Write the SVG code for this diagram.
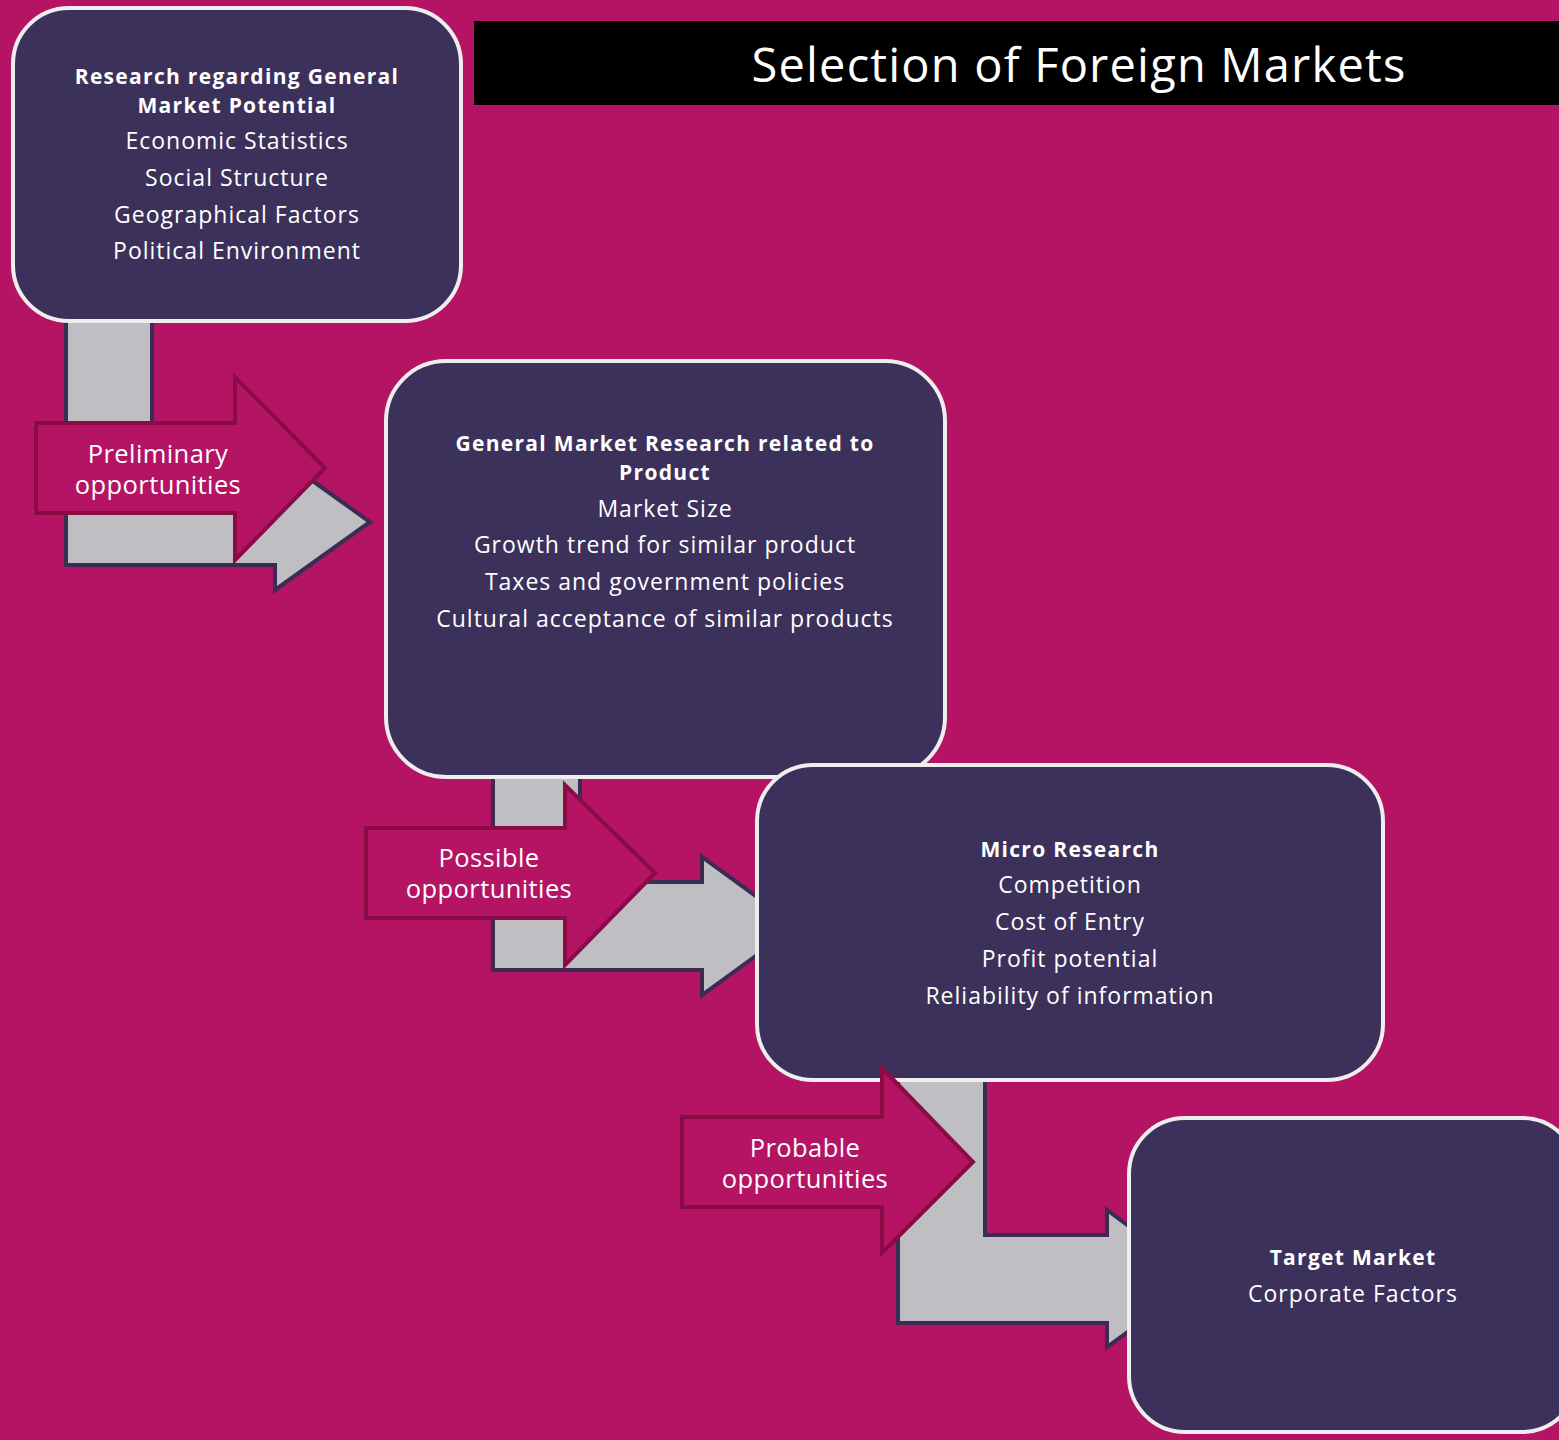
<svg xmlns="http://www.w3.org/2000/svg" width="1559" height="1440" viewBox="0 0 1559 1440">
<style>
.bg{fill:#B41463}
.node{fill:#3C315A;stroke:#EEEEEE;stroke-width:4}
.conn{fill:#BFBEC3;stroke:#3A2C52;stroke-width:4;stroke-linejoin:miter}
.lbl{fill:#B41463;stroke:#8A0C47;stroke-width:4;stroke-linejoin:miter}
text{font-family:"Open Sans","Noto Sans","Liberation Sans",sans-serif;fill:#FFFFFF;text-anchor:middle}
.t{font-weight:bold;font-size:21px;letter-spacing:1.3px}
.i{font-size:23px;letter-spacing:1px}
.l{font-size:25.5px;letter-spacing:0.4px}
.title{font-size:47px;letter-spacing:1.2px}
</style>
<rect class="bg" x="0" y="0" width="1559" height="1440"/>
<g id="title">
<rect x="474" y="21" width="1090" height="84" fill="#000000"/>
<text class="title" x="1079" y="82">Selection of Foreign Markets</text>
</g>
<g id="connectors">
<path class="conn" d="M66,318 L66,565 L275,565 L275,590 L370,522 L275,454 L275,479 L152,479 L152,318 Z"/>
<path class="conn" d="M493,770 L493,970 L702,970 L702,995 L797,926 L702,857 L702,882 L580,882 L580,770 Z"/>
<path class="conn" d="M898,1075 L898,1323 L1107,1323 L1107,1347 L1200,1279 L1107,1210 L1107,1235 L985,1235 L985,1075 Z"/>
</g>
<g id="node1">
<rect class="node" x="13" y="8" width="448" height="313" rx="56" ry="56"/>
<text class="t" x="237" y="84">Research regarding General</text>
<text class="t" x="237" y="113">Market Potential</text>
<text class="i" x="237" y="149">Economic Statistics</text>
<text class="i" x="237" y="186">Social Structure</text>
<text class="i" x="237" y="223">Geographical Factors</text>
<text class="i" x="237" y="259">Political Environment</text>
</g>
<g id="node2">
<rect class="node" x="386" y="361" width="559" height="416" rx="60" ry="60"/>
<text class="t" x="665" y="451">General Market Research related to</text>
<text class="t" x="665" y="480">Product</text>
<text class="i" x="665" y="517">Market Size</text>
<text class="i" x="665" y="553">Growth trend for similar product</text>
<text class="i" x="665" y="590">Taxes and government policies</text>
<text class="i" x="665" y="627">Cultural acceptance of similar products</text>
</g>
<g id="node3">
<rect class="node" x="757" y="765" width="626" height="315" rx="56" ry="56"/>
<text class="t" x="1070" y="857">Micro Research</text>
<text class="i" x="1070" y="893">Competition</text>
<text class="i" x="1070" y="930">Cost of Entry</text>
<text class="i" x="1070" y="967">Profit potential</text>
<text class="i" x="1070" y="1004">Reliability of information</text>
</g>
<g id="node4">
<rect class="node" x="1129" y="1118" width="449" height="314" rx="56" ry="56"/>
<text class="t" x="1353" y="1265">Target Market</text>
<text class="i" x="1353" y="1302">Corporate Factors</text>
</g>
<g id="label1">
<path class="lbl" d="M36,423 L235,423 L235,377 L325,468 L235,560 L235,513 L36,513 Z"/>
<text class="l" x="158" y="463">Preliminary</text>
<text class="l" x="158" y="494">opportunities</text>
</g>
<g id="label2">
<path class="lbl" d="M366,828 L565,828 L565,785 L655,873 L565,965 L565,918 L366,918 Z"/>
<text class="l" x="489" y="867">Possible</text>
<text class="l" x="489" y="898">opportunities</text>
</g>
<g id="label3">
<path class="lbl" d="M682,1117 L882,1117 L882,1068 L973,1162 L882,1253 L882,1207 L682,1207 Z"/>
<text class="l" x="805" y="1157">Probable</text>
<text class="l" x="805" y="1188">opportunities</text>
</g>
</svg>
